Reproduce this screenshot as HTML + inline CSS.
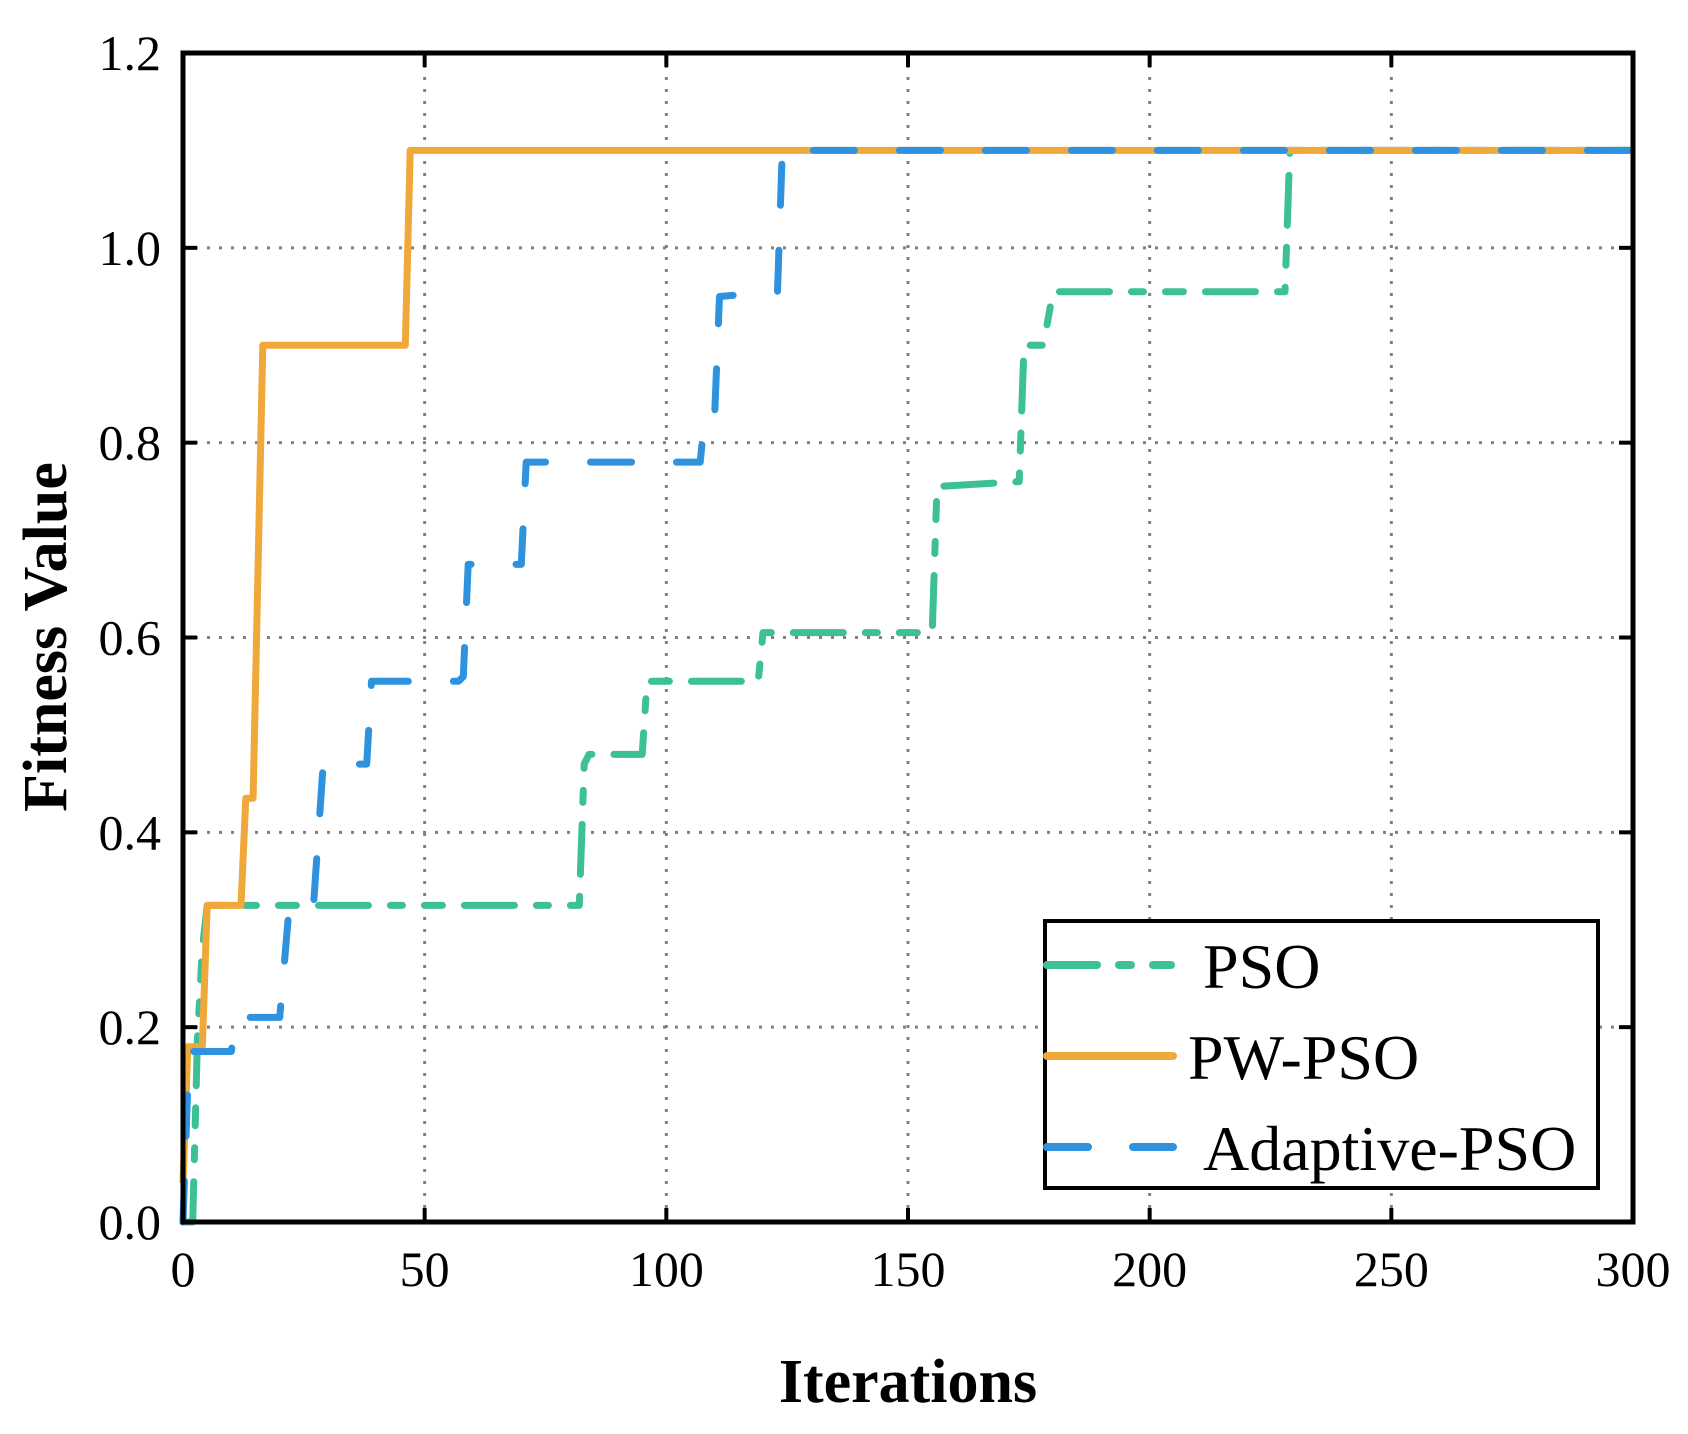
<!DOCTYPE html>
<html><head><meta charset="utf-8"><style>
html,body{margin:0;padding:0;background:#fff}
svg{display:block}
text{font-family:"Liberation Serif",serif;fill:#000}
</style></head><body>
<svg id="chart" width="1688" height="1434" viewBox="0 0 1688 1434" xmlns="http://www.w3.org/2000/svg">
<g id="grid"></g>
<g id="series"></g>
<g id="axes"></g>
<text x="908" y="1402" font-size="62" font-weight="bold" text-anchor="middle">Iterations</text>
<text transform="translate(66,637) rotate(-90)" font-size="62" font-weight="bold" text-anchor="middle">Fitness Value</text>
<g>
<rect x="1045" y="921" width="553" height="267" fill="#fff" stroke="#000" stroke-width="4"/>
<line x1="1047" y1="965" x2="1173" y2="965" stroke="#3dbf98" stroke-width="8" stroke-linecap="round" stroke-dasharray="50 22 12 22 18 100"/>
<text x="1203" y="988" font-size="64">PSO</text>
<line x1="1047" y1="1056" x2="1173" y2="1056" stroke="#f0a83a" stroke-width="8" stroke-linecap="round"/>
<text x="1188" y="1079" font-size="64">PW-PSO</text>
<line x1="1047" y1="1147" x2="1173" y2="1147" stroke="#2e92de" stroke-width="8" stroke-linecap="round" stroke-dasharray="41 45"/>
<text x="1203" y="1170" font-size="64">Adaptive-PSO</text>
</g>
</svg>
<script>
const xTicks = [0, 50, 100, 150, 200, 250, 300];
const yTicks = [0.0, 0.2, 0.4, 0.6, 0.8, 1.0, 1.2];
const psoIter = [0,2,3,4,5,82,83,84,95,96,119,120,155,156,173,174,178,180,228,229,300];
const psoVal  = [0,0,0.19,0.28,0.325,0.325,0.47,0.48,0.48,0.555,0.555,0.605,0.605,0.755,0.76,0.9,0.9,0.955,0.955,1.1,1.1];
const pwIter = [0,1,4,5,12,13,14.5,16.5,46,47,300];
const pwVal  = [0.04,0.18,0.18,0.325,0.325,0.435,0.435,0.9,0.9,1.1,1.1];
const adIter = [0,1,2,10,11,20,22,27,29,38,39,57,58,59,70,71,107,108,110,111,123,124,300];
const adVal  = [0.0,0.14,0.175,0.175,0.21,0.21,0.325,0.325,0.47,0.47,0.555,0.555,0.56,0.675,0.675,0.78,0.78,0.83,0.83,0.95,0.955,1.1,1.1];

const X0=183, X1=1633, Y0=1222, Y1=53;
const xs = v => X0 + (v-0)/(300-0)*(X1-X0);
const ys = v => Y0 - (v-0)/(1.2-0)*(Y0-Y1);
const NS='http://www.w3.org/2000/svg';
function mk(tag, attrs, parent){const e=document.createElementNS(NS,tag);for(const k in attrs)e.setAttribute(k,attrs[k]);parent.appendChild(e);return e;}
const grid=document.getElementById('grid'), axes=document.getElementById('axes'), series=document.getElementById('series');

xTicks.forEach((t,i)=>{
  const x=xs(t);
  if(i>0&&i<xTicks.length-1){
    const g=mk('line',{x1:x,y1:Y1,x2:x,y2:Y0,stroke:'#808080','stroke-width':3,'stroke-dasharray':'3 9'},grid);
    
    
    const a=mk('line',{x1:x,y1:Y0,x2:x,y2:Y0-14,stroke:'#000','stroke-width':4},axes);
    
    
    const b=mk('line',{x1:x,y1:Y1,x2:x,y2:Y1+14,stroke:'#000','stroke-width':4},axes);
    
    
  }
  const tx=mk('text',{x:x,y:1286,'font-size':50,'text-anchor':'middle'},axes);
  tx.textContent=String(t);
  
  
});
yTicks.forEach((t,i)=>{
  const y=ys(t);
  if(i>0&&i<yTicks.length-1){
    const g=mk('line',{x1:X0,y1:y,x2:X1,y2:y,stroke:'#808080','stroke-width':3,'stroke-dasharray':'3 9'},grid);
    
    
    const a=mk('line',{x1:X0,y1:y,x2:X0+14,y2:y,stroke:'#000','stroke-width':4},axes);
    
    
    const b=mk('line',{x1:X1,y1:y,x2:X1-14,y2:y,stroke:'#000','stroke-width':4},axes);
    
    
  }
  const tx=mk('text',{x:161,y:y+17,'font-size':50,'text-anchor':'end'},axes);
  tx.textContent=t.toFixed(1);
  
  
});
const frame=mk('rect',{x:X0,y:Y1,width:X1-X0,height:Y0-Y1,fill:'none',stroke:'#000','stroke-width':5},axes);



function path(ix,vals){return ix.map((v,i)=>(i?'L':'M')+xs(v).toFixed(1)+' '+ys(vals[i]).toFixed(1)).join(' ');}
const p1=mk('path',{d:path(psoIter,psoVal),fill:'none',stroke:'#3dbf98','stroke-width':7,'stroke-linecap':'round','stroke-linejoin':'round','stroke-dasharray':'50 22 12 22 18 22'},series);


const p2=mk('path',{d:path(pwIter,pwVal),fill:'none',stroke:'#f0a83a','stroke-width':7,'stroke-linecap':'butt','stroke-linejoin':'round'},series);


const p3=mk('path',{d:path(adIter,adVal),fill:'none',stroke:'#2e92de','stroke-width':7,'stroke-linecap':'round','stroke-linejoin':'round','stroke-dasharray':'41 45'},series);


</script>
</body></html>
